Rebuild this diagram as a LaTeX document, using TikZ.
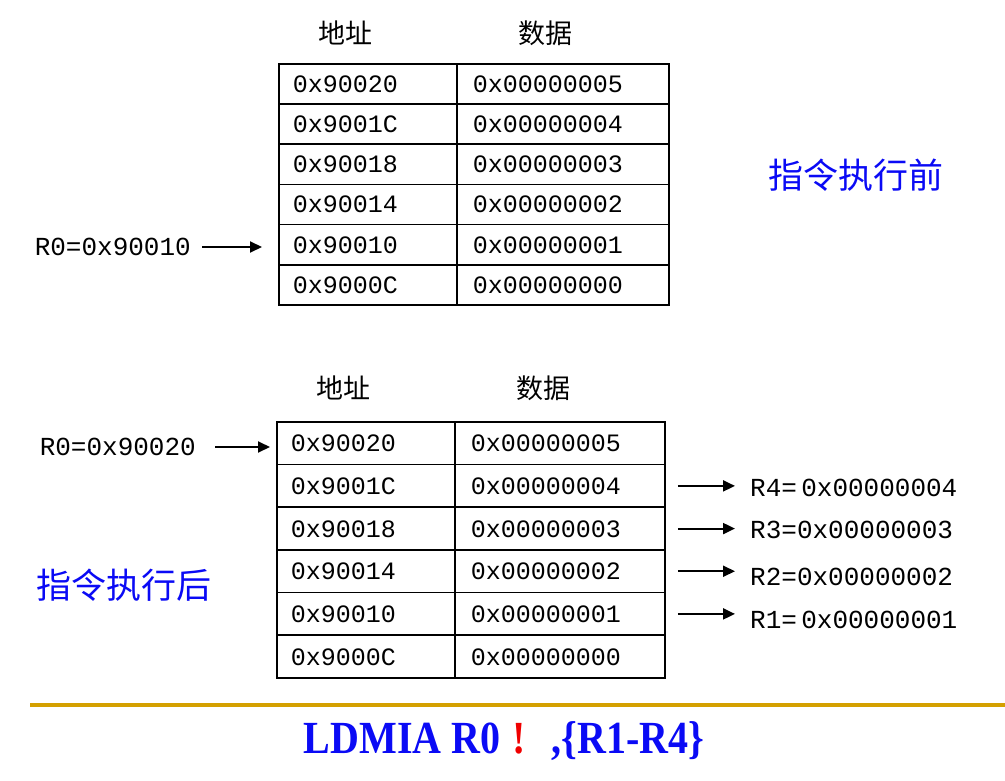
\documentclass[tikz,border=0pt]{standalone}
\usepackage{fontspec}
\usepackage{graphicx}
\setmainfont{Liberation Serif}
\newfontfamily\monof{Liberation Mono}
\newfontfamily\cjk{Noto Sans CJK SC}
\usetikzlibrary{arrows.meta}
\definecolor{gold}{RGB}{212,160,0}
\definecolor{myblue}{RGB}{10,10,245}
\definecolor{myred}{RGB}{240,0,0}
\begin{document}
\begin{tikzpicture}[x=1pt,y=-1pt,
  cellbase/.style={draw, line width=1.8pt, anchor=north west,
    font=\monof\fontsize{25}{30}\selectfont, align=left,
    text height=17pt, text depth=0pt, inner ysep=0pt},
  cellA/.style={cellbase, inner xsep=14pt, text width=150pt},
  cellB1/.style={cellbase, inner xsep=16pt, text width=180pt},
  cellB2/.style={cellbase, inner xsep=16pt, text width=178pt},
  lbl/.style={inner sep=0pt, font=\monof\fontsize{26}{30}\selectfont},
  hdr/.style={inner sep=0pt, font=\cjk\fontsize{27}{30}\selectfont},
  title/.style={inner sep=0pt, text=myblue, font=\cjk\fontsize{35}{40}\selectfont},
  arr/.style={line width=2pt, -{Triangle[length=12pt,width=11pt]}}]
\useasboundingbox (0,0) rectangle (1005,781);

% headers
\node[hdr] (hta) at (345,33) {地址};
\node[hdr] (htb) at (545,33) {数据};
\node[hdr] (hba) at (343,388) {地址};
\node[hdr] (hbb) at (543,388) {数据};

% tables
\foreach \a/\d [count=\i from 0] in {0x90020/0x00000005,0x9001C/0x00000004,0x90018/0x00000003,0x90014/0x00000002,0x90010/0x00000001,0x9000C/0x00000000}{
  \node[cellA, minimum height=40.17pt] (ta\i) at (278,{63+40.17*\i}) {\a};
  \node[cellB1, minimum height=40.17pt] (tb\i) at (456,{63+40.17*\i}) {\d};
  \node[cellA, minimum height=42.67pt] (ba\i) at (276,{421+42.67*\i}) {\a};
  \node[cellB2, minimum height=42.67pt] (bb\i) at (454,{421+42.67*\i}) {\d};
}

% titles
\node[title] (before) at (856,175) {指令执行前};
\node[title] (after) at (124,585) {指令执行后};

% R0 labels and arrows
\node[lbl, anchor=east] (r0t) at (191,247) {R0=0x90010};
\draw[arr, shorten <=11pt, shorten >=16pt] (r0t.east) -- (r0t.east -| ta4.west);
\node[lbl, anchor=east] (r0b) at (196,447) {R0=0x90020};
\draw[arr, shorten <=19pt, shorten >=6pt] (r0b.east) -- (r0b.east -| ba0.west);

% right labels
\node[lbl, anchor=west] (r4) at (750,488) {R4=\,0x00000004};
\node[lbl, anchor=west] (r3) at (750,530) {R3=0x00000003};
\node[lbl, anchor=west] (r2) at (750,577) {R2=0x00000002};
\node[lbl, anchor=west] (r1) at (750,620) {R1=\,0x00000001};
\draw[arr, shorten <=12pt, shorten >=15pt] (bb1.east) -- (bb1.east -| r4.west);
\draw[arr, shorten <=12pt, shorten >=15pt] (bb2.east) -- (bb2.east -| r3.west);
\draw[arr, shorten <=12pt, shorten >=15pt] (bb3.east) -- (bb3.east -| r2.west);
\draw[arr, shorten <=12pt, shorten >=15pt] (bb4.east) -- (bb4.east -| r1.west);

% separator line
\coordinate (l1) at (30,705);
\coordinate (l2) at (1005,705);
\draw[gold, line width=4pt] (l1) -- (l2);

% instruction
\node[inner sep=0pt, font=\bfseries\fontsize{40}{44}\selectfont] (instr) at (504,741)
  {\scalebox{1}[1.15]{\textcolor{myblue}{LDMIA R0}\hspace{12pt}\textcolor{myred}{!}\hspace{26pt}\textcolor{myblue}{,\{R1-R4\}}}};
\end{tikzpicture}
\end{document}
